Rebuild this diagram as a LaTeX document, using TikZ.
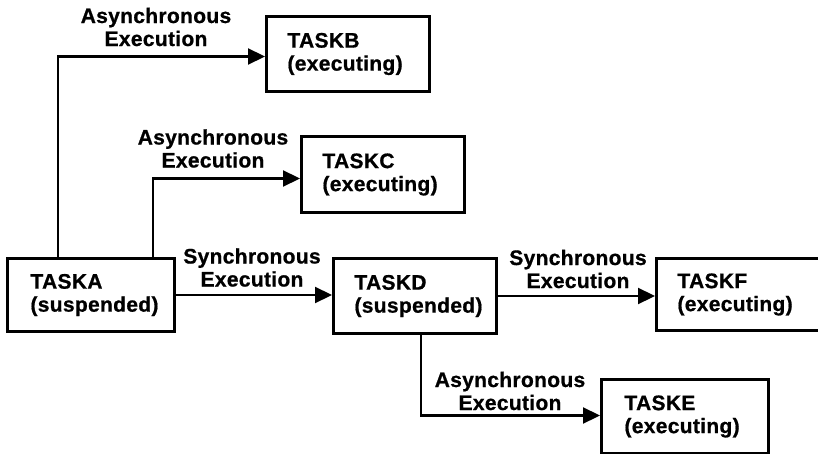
\documentclass[tikz,border=0pt]{standalone}
\usepackage{fontspec}
\setmainfont{Liberation Sans}[LetterSpace=1.5,BoldFeatures={FakeBold=0.8}]
\usetikzlibrary{arrows.meta}
\begin{document}
\begin{tikzpicture}[x=1pt,y=-1pt,
  font=\fontsize{21}{23}\selectfont\bfseries,
  task/.style={draw, line width=3pt, inner xsep=21pt, inner ysep=0pt,
    text width=121pt, align=left, minimum height=75pt, anchor=north west},
  conn/.style={line width=2.2pt, -{Triangle[length=17pt,width=16pt]}},
  lbl/.style={align=center, inner sep=0pt}]
\useasboundingbox (0,0) rectangle (818,454);

% task boxes
\node[task, minimum width=167pt, minimum height=73pt] (A) at (6,257)   {TASKA\\(suspended)};
\node[task, minimum height=75pt]                      (B) at (265,15)  {TASKB\\(executing)};
\node[task, minimum height=76pt]                      (C) at (300,135) {TASKC\\(executing)};
\node[task, minimum height=75pt]                      (D) at (332,257) {TASKD\\(suspended)};
\node[task, minimum width=162pt, minimum height=72pt] (F) at (655,257) {TASKF\\(executing)};
\node[task, minimum width=167pt, minimum height=74pt] (E) at (600,378) {TASKE\\(executing)};

% connectors
\draw[conn] ([xshift=52pt]A.north west) |- ([yshift=-2.5pt]B.west);
\draw[conn] ([xshift=147pt]A.north west) |- ([yshift=-4pt]C.west);
\draw[conn] (A.east) -- (A.east -| D.west);
\draw[conn] (D.east) -- (D.east -| F.west);
\draw[conn] ([xshift=89pt]D.south west) |- ([yshift=1pt]E.west);

% connector labels
\node[lbl] (lB) at (156,27)  {Asynchronous\\Execution};
\node[lbl] (lC) at (213,148.5) {Asynchronous\\Execution};
\node[lbl] (lD) at (252,267.5) {Synchronous\\Execution};
\node[lbl] (lF) at (578,269)   {Synchronous\\Execution};
\node[lbl] (lE) at (510,391)   {Asynchronous\\Execution};
\end{tikzpicture}
\end{document}
